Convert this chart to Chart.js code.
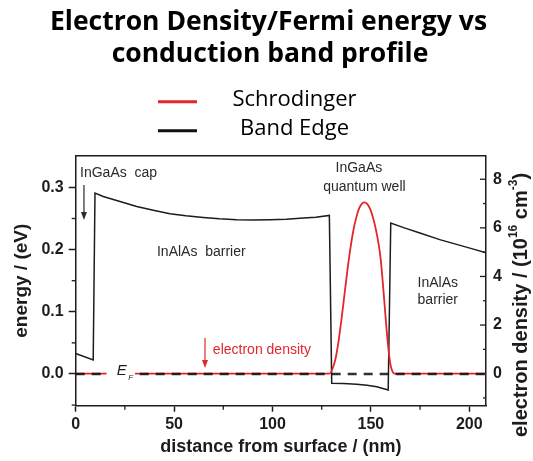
<!DOCTYPE html>
<html>
<head>
<meta charset="utf-8">
<script src="https://cdn.jsdelivr.net/npm/chart.js@4.4.1/dist/chart.umd.min.js"></script>
<style>
  html, body { margin: 0; padding: 0; background: #fff; }
  #wrap { width: 533px; height: 461px; position: relative; }
</style>
</head>
<body>
<div id="wrap"><canvas id="bandChart"></canvas></div>
<script>
// conduction band edge, energy (eV) against depth (nm)
const bandX = [0, 8.9, 9.8, 14.0, 22.5, 31.0, 40.0, 47.9, 56.0, 64.8, 73.0, 81.8, 90.0, 98.7, 107.0, 115.7, 122.0, 128.9,
               130.1, 136.0, 142.8, 148.0, 153.0, 158.8,
               160.1, 167.0, 174.9, 185.0, 200.3, 208.5];
const bandE = [0.033, 0.0225, 0.291, 0.2855, 0.2775, 0.2694, 0.263, 0.2577, 0.2545, 0.2517, 0.2495, 0.248, 0.2475, 0.248, 0.249, 0.2507, 0.252, 0.2549,
               -0.015, -0.0155, -0.0166, -0.018, -0.0205, -0.0258,
               0.2427, 0.235, 0.2266, 0.216, 0.2024, 0.195];

// Fermi level
const fermiX = [0, 208.5];
const fermiE = [0, 0];

// electron density from the Schrodinger solution (1e16 cm^-3)
const densX = [0, 129.0, 130.5, 132.0, 133.5, 135.0, 136.5, 138.0, 139.5, 141.0, 142.5, 144.0, 145.5, 146.8, 148.0,
               149.5, 151.0, 152.5, 154.0, 155.0, 156.0, 157.0, 158.0, 159.0, 160.0, 161.0, 162.0, 208.5];
const densN = [0, 0, 0.2, 0.6, 1.3, 2.2, 3.2, 4.2, 5.1, 5.85, 6.4, 6.8, 7.0, 7.05, 7.0,
               6.8, 6.45, 5.95, 5.3, 4.7, 3.8, 2.8, 1.8, 0.95, 0.35, 0.08, 0, 0];

const distTicks = [0, 50, 100, 150, 200];
const distMinor = [25, 75, 125, 175];
const energyTicks = [0, 0.1, 0.2, 0.3];
const energyMinor = [-0.05, 0.05, 0.15, 0.25];
const densTicks = [0, 2, 4, 6, 8];
const densMinor = [-1, 1, 3, 5, 7];

const titleLines = ['Electron Density/Fermi energy vs', 'conduction band profile'];
const seriesNames = ['Schrodinger', 'Band Edge'];

const RED = '#e3262a';
const INK = '#1c1c1c';
const AXIS_FONT = "'Liberation Sans', Arial, sans-serif";

Chart.defaults.font.family = AXIS_FONT;
Chart.defaults.color = INK;

function toPoints(xs, ys) {
    return xs.map((x, i) => ({x: x, y: ys[i]}));
}

function arrowDown(ctx, x, yTop, yTip, color) {
    ctx.strokeStyle = color;
    ctx.fillStyle = color;
    ctx.lineWidth = 1.2;
    ctx.beginPath();
    ctx.moveTo(x, yTop);
    ctx.lineTo(x, yTip - 6);
    ctx.stroke();
    ctx.beginPath();
    ctx.moveTo(x - 3, yTip - 8);
    ctx.lineTo(x + 3, yTip - 8);
    ctx.lineTo(x, yTip);
    ctx.closePath();
    ctx.fill();
}

// text labels inside the plot, placed in data units
const notes = [
    {text: 'InGaAs  cap', x: 2.2, e: 0.323, align: 'left'},
    {text: 'InAlAs  barrier', x: 41.3, e: 0.196, align: 'left'},
    {text: 'InGaAs', x: 143.9, e: 0.331, align: 'center'},
    {text: 'quantum well', x: 146.7, e: 0.301, align: 'center'},
    {text: 'InAlAs', x: 184.0, e: 0.146, align: 'center'},
    {text: 'barrier', x: 184.0, e: 0.119, align: 'center'}
];

const decorations = {
    id: 'decorations',
    afterDatasetsDraw(chart) {
        const {ctx, chartArea: a, scales: {x, y, y2}} = chart;
        ctx.save();

        // box top edge
        ctx.strokeStyle = INK;
        ctx.lineWidth = 1.5;
        ctx.beginPath();
        ctx.moveTo(a.left, a.top);
        ctx.lineTo(a.right, a.top);
        ctx.stroke();

        // minor ticks on the left and bottom, all ticks on the right point inward
        ctx.lineWidth = 1.3;
        energyMinor.forEach(v => {
            const p = y.getPixelForValue(v);
            ctx.beginPath(); ctx.moveTo(a.left - 4, p); ctx.lineTo(a.left, p); ctx.stroke();
        });
        distMinor.forEach(v => {
            const p = x.getPixelForValue(v);
            ctx.beginPath(); ctx.moveTo(p, a.bottom); ctx.lineTo(p, a.bottom + 4); ctx.stroke();
        });
        densTicks.forEach(v => {
            const p = y2.getPixelForValue(v);
            ctx.beginPath(); ctx.moveTo(a.right - 6, p); ctx.lineTo(a.right, p); ctx.stroke();
        });
        densMinor.forEach(v => {
            const p = y2.getPixelForValue(v);
            ctx.beginPath(); ctx.moveTo(a.right - 3, p); ctx.lineTo(a.right, p); ctx.stroke();
        });

        // E_F label on a white patch over the Fermi line
        const y0 = y.getPixelForValue(0);
        const gx0 = x.getPixelForValue(15.7);
        const gx1 = x.getPixelForValue(30.1);
        ctx.fillStyle = '#fff';
        ctx.fillRect(gx0, y0 - 4, gx1 - gx0, 8);
        ctx.fillStyle = INK;
        ctx.textAlign = 'left';
        ctx.textBaseline = 'alphabetic';
        ctx.font = 'italic 15px ' + AXIS_FONT;
        ctx.fillText('E', x.getPixelForValue(20.8), y0 + 1.5);
        ctx.font = 'italic 8px ' + AXIS_FONT;
        ctx.fillText('F', x.getPixelForValue(26.7), y0 + 6.5);

        // region labels
        ctx.font = '14px ' + AXIS_FONT;
        ctx.textBaseline = 'middle';
        ctx.fillStyle = '#2a2a2a';
        notes.forEach(n => {
            ctx.textAlign = n.align;
            ctx.fillText(n.text, x.getPixelForValue(n.x), y.getPixelForValue(n.e));
        });
        arrowDown(ctx, x.getPixelForValue(4.2), y.getPixelForValue(0.304), y.getPixelForValue(0.2476), '#2a2a2a');

        // electron density pointer
        ctx.fillStyle = RED;
        ctx.textAlign = 'left';
        ctx.fillText('electron density', x.getPixelForValue(69.7), y.getPixelForValue(0.0386));
        arrowDown(ctx, x.getPixelForValue(65.7), y.getPixelForValue(0.0579), y.getPixelForValue(0.0096), RED);

        ctx.restore();
    },
    afterDraw(chart) {
        const {ctx} = chart;
        ctx.save();

        // heading
        ctx.fillStyle = '#000';
        ctx.textAlign = 'center';
        ctx.textBaseline = 'alphabetic';
        ctx.font = "bold 26.5px 'Open Sans', sans-serif";
        ctx.fillText(titleLines[0], 268.5, 30);
        ctx.fillText(titleLines[1], 270, 62);

        // legend
        const swatch = [RED, '#111'];
        const rows = [101.7, 130.7];
        ctx.lineWidth = 3;
        ctx.font = "22px 'Open Sans', sans-serif";
        seriesNames.forEach((name, i) => {
            ctx.strokeStyle = swatch[i];
            ctx.beginPath();
            ctx.moveTo(158, rows[i]);
            ctx.lineTo(197, rows[i]);
            ctx.stroke();
            ctx.fillStyle = '#000';
            ctx.textBaseline = 'middle';
            ctx.fillText(name, 294.5, rows[i] - 2);
        });

        // right axis title with superscripts, read bottom to top
        const parts = [
            {t: 'electron density / (10', sup: false},
            {t: '16', sup: true},
            {t: ' cm', sup: false},
            {t: '-3', sup: true},
            {t: ')', sup: false}
        ];
        const big = 'bold 20px ' + AXIS_FONT;
        const small = 'bold 12px ' + AXIS_FONT;
        let total = 0;
        parts.forEach(p => { ctx.font = p.sup ? small : big; p.w = ctx.measureText(p.t).width; total += p.w; });
        ctx.translate(521, 305);
        ctx.rotate(-Math.PI / 2);
        ctx.textAlign = 'left';
        ctx.textBaseline = 'middle';
        ctx.fillStyle = INK;
        let cx = -total / 2;
        parts.forEach(p => {
            ctx.font = p.sup ? small : big;
            ctx.fillText(p.t, cx, p.sup ? -7 : 0);
            cx += p.w;
        });

        ctx.restore();
    }
};

const ctxBand = document.getElementById('bandChart').getContext('2d');
new Chart(ctxBand, {
    type: 'line',
    data: {
        datasets: [{
            label: 'E_F',
            data: toPoints(fermiX, fermiE),
            yAxisID: 'y',
            borderColor: 'rgba(15, 10, 10, 0.85)',
            borderWidth: 2.4,
            borderDash: [9, 7],
            pointRadius: 0
        }, {
            label: seriesNames[0],
            data: toPoints(densX, densN),
            yAxisID: 'y2',
            borderColor: RED,
            borderWidth: 1.8,
            pointRadius: 0,
            cubicInterpolationMode: 'monotone'
        }, {
            label: seriesNames[1],
            data: toPoints(bandX, bandE),
            yAxisID: 'y',
            borderColor: INK,
            borderWidth: 1.5,
            pointRadius: 0,
            tension: 0
        }]
    },
    options: {
        responsive: true,
        maintainAspectRatio: false,
        animation: false,
        layout: {padding: {top: 155.7, left: 0, right: 0, bottom: 0}},
        plugins: {
            legend: {display: false},
            tooltip: {enabled: false},
            title: {display: false}
        },
        scales: {
            x: {
                type: 'linear',
                min: 0,
                max: 208.5,
                afterFit(s) { s.height = 55.3; },
                afterBuildTicks(s) { s.ticks = distTicks.map(v => ({value: v})); },
                grid: {drawOnChartArea: false, tickLength: 6, color: INK, tickWidth: 1.5},
                border: {display: true, color: INK, width: 1.5},
                ticks: {font: {size: 16, weight: 'bold'}, color: INK, padding: 3, maxRotation: 0, autoSkip: false},
                title: {
                    display: true,
                    text: 'distance from surface / (nm)',
                    font: {size: 18, weight: 'bold'},
                    color: INK,
                    padding: {top: 0, bottom: 3}
                }
            },
            y: {
                position: 'left',
                min: -0.051,
                max: 0.351,
                afterFit(s) { s.width = 75.7; },
                afterBuildTicks(s) { s.ticks = energyTicks.map(v => ({value: v})); },
                grid: {drawOnChartArea: false, tickLength: 7, color: INK, tickWidth: 1.5},
                border: {display: true, color: INK, width: 1.5},
                ticks: {
                    font: {size: 16, weight: 'bold'},
                    color: INK,
                    padding: 5,
                    autoSkip: false,
                    callback: v => v.toFixed(1)
                },
                title: {
                    display: true,
                    text: 'energy / (eV)',
                    font: {size: 19, weight: 'bold'},
                    color: INK,
                    padding: {top: 10.6, bottom: 0}
                }
            },
            y2: {
                position: 'right',
                min: -1.32,
                max: 8.97,
                afterFit(s) { s.width = 47; },
                afterBuildTicks(s) { s.ticks = densTicks.map(v => ({value: v})); },
                grid: {display: false, drawOnChartArea: false, drawTicks: false},
                border: {display: true, color: INK, width: 1.5},
                ticks: {
                    font: {size: 16, weight: 'bold'},
                    color: INK,
                    padding: 7,
                    autoSkip: false,
                    callback: v => String(v)
                }
            }
        }
    },
    plugins: [decorations]
});
</script>
</body>
</html>
